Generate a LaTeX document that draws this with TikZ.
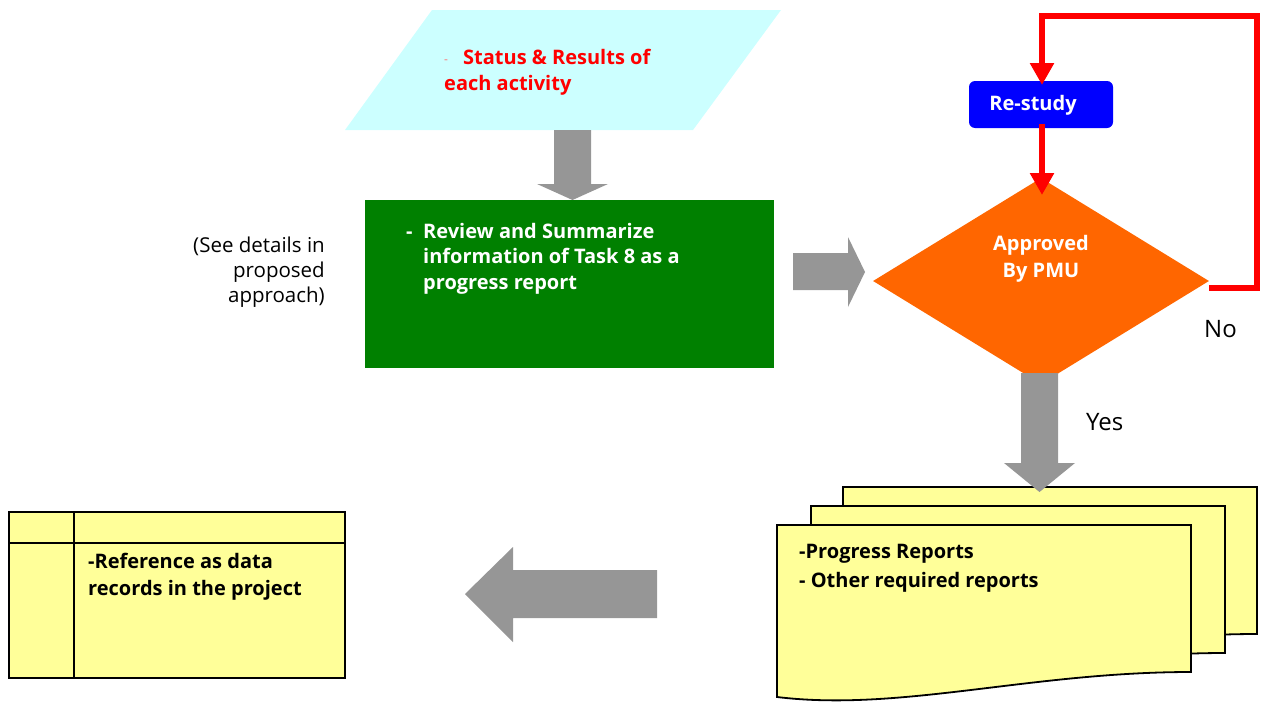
\documentclass[tikz,border=0pt]{standalone}
\usepackage{fontspec}
\setmainfont{Open Sans}
\usetikzlibrary{arrows.meta,shapes.geometric}

\definecolor{inputfill}{HTML}{CCFFFF}
\definecolor{taskgreen}{HTML}{008000}
\definecolor{pmuorange}{HTML}{FF6600}
\definecolor{arrowgray}{HTML}{969696}
\definecolor{notefill}{HTML}{FFFF99}
\definecolor{restudyblue}{HTML}{0000FF}

% multi-line nodes are placed by the baseline of their last line
\tikzset{
  txt/.style={inner sep=0pt, anchor=base west, align=left,
    font=\fontsize{20}{25.5}\selectfont\bfseries},
  plaintxt/.style={inner sep=0pt, font=\fontsize{20.5}{25}\selectfont},
  answertxt/.style={inner sep=0pt, anchor=base west, font=\fontsize{24}{28}\selectfont},
  blockarrow/.style={fill=arrowgray, draw=none},
  loopline/.style={draw=red, line width=5.5pt, line join=miter},
  outline/.style={draw=black, line width=1.8pt, line join=miter},
  reportsheet/.pic={
    \filldraw[outline, fill=notefill] (0,0) -- (414,0) -- (414,147)
      .. controls (253,147) and (123,187) .. (0,172) -- cycle;
  },
}

\begin{document}
\begin{tikzpicture}[x=1pt, y=-1pt]
\useasboundingbox (0,0) rectangle (1270,704);

% input parallelogram
\fill[inputfill] (432,10) -- (781,10) -- (693,130) -- (345,130) -- cycle;
\node[txt, red!55, font=\fontsize{12}{12}\selectfont] (statusdash) at (444,63) {-};
\node[txt, red] (status1) at (463,64) {Status \& Results of};
\node[txt, red] (status2) at (444,90) {each activity};

% review task
\node[rectangle, fill=taskgreen, minimum width=409pt, minimum height=168pt,
  inner sep=0pt] (review) at (569.5,284) {};
\node[txt, white] (reviewdash) at (406,238) {-};
\node[txt, white] (reviewtxt) at (423,289)
  {Review and Summarize\\information of Task 8 as a\\progress report};

% side note
\node[plaintxt, anchor=base east, align=right] (seedetails) at (325,302)
  {(See details in\\proposed\\approach)};

% decision
\node[diamond, fill=pmuorange, minimum width=336pt, minimum height=206pt,
  inner sep=0pt] (pmu) at (1041,281) {};
\node[txt, white, anchor=base, align=center,
  font=\fontsize{20}{27}\selectfont\bfseries] (pmutxt) at (1041,277)
  {Approved\\By PMU};

% re-study
\node[rectangle, rounded corners=6pt, fill=restudyblue, minimum width=144pt,
  minimum height=47pt, inner sep=0pt] (restudy) at (1041,104.5) {};
\node[txt, white, anchor=base] (restudytxt) at (1033,110) {Re-study};

% rejection loop
\coordinate (noout) at (1209,288);
\draw[loopline, -{Triangle[width=23pt,length=22pt]}]
  (noout) -- (1257,288) -- (1257,16) -- (1042,16) -- (1042,85);
\draw[loopline, -{Triangle[width=23pt,length=22pt]}]
  (1042,124) -- (1042,195);

\node[answertxt] (nolabel) at (1204,337) {No};
\node[answertxt] (yeslabel) at (1086,430) {Yes};

% stacked reports
\pic at (843,487) {reportsheet};
\pic at (811,506) {reportsheet};
\pic at (777,525) {reportsheet};
\node[txt] (reports1) at (799,558) {-Progress Reports};
\node[txt] (reports2) at (799,587) {- Other required reports};

% records table
\node[rectangle, outline, fill=notefill, minimum width=336pt,
  minimum height=166pt, inner sep=0pt] (records) at (177,595) {};
\draw[outline] (74,512) -- (74,678);
\draw[outline] (9,543) -- (345,543);
\node[txt, font=\fontsize{20}{27}\selectfont\bfseries] (recordstxt) at (88,595)
  {-Reference as data\\records in the project};

% block arrows
\fill[blockarrow] (554,130) -- (591,130) -- (591,184) -- (608,184)
  -- (572.5,200) -- (537,184) -- (554,184) -- cycle;
\fill[blockarrow] (793,253) -- (848,253) -- (848,237) -- (865,272)
  -- (848,307) -- (848,290) -- (793,290) -- cycle;
\fill[blockarrow] (1021,373) -- (1058,373) -- (1058,463) -- (1075,463)
  -- (1039.5,492) -- (1004,463) -- (1021,463) -- cycle;
\fill[blockarrow] (657,570) -- (513,570) -- (513,547) -- (465,594)
  -- (513,642) -- (513,618) -- (657,618) -- cycle;
\end{tikzpicture}
\end{document}
